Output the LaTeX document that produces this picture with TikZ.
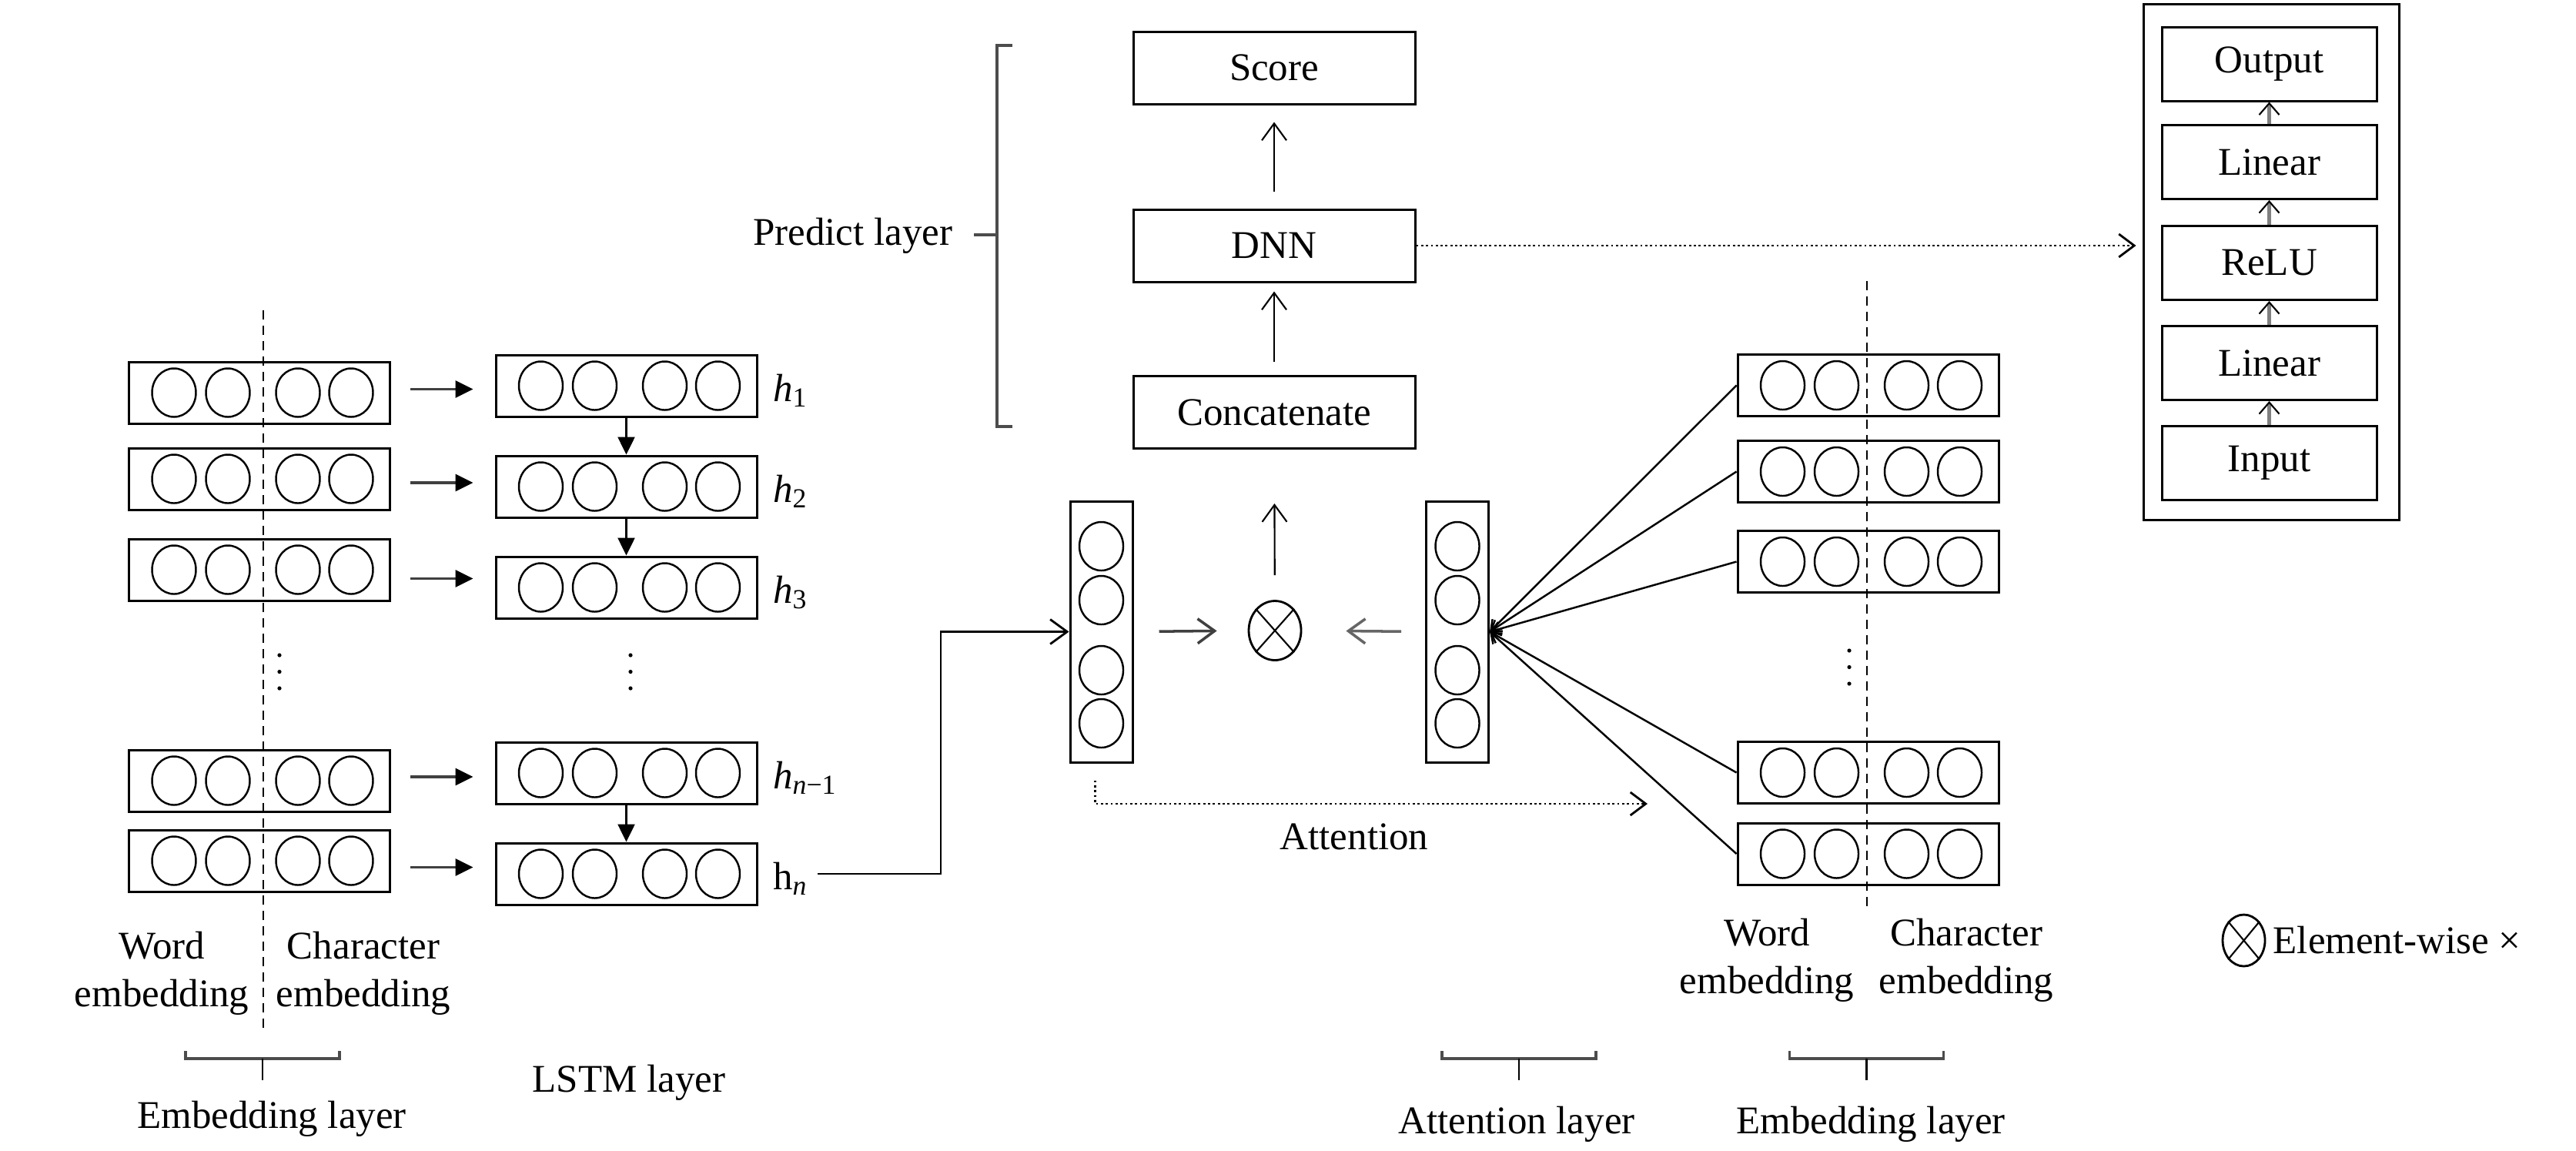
\documentclass[tikz,border=0pt]{standalone}
\usepackage{fontspec}
\setmainfont{Liberation Serif}
\usetikzlibrary{shapes.geometric,arrows.meta,calc}
\begin{document}
\begin{tikzpicture}[
  every node/.style={font=\fontsize{14.5}{17.6}\selectfont},
  vec/.style={draw, line width=0.85pt, minimum width=3.39cm, minimum height=0.80cm, inner sep=0},
  vvec/.style={draw, line width=0.85pt, minimum width=0.81cm, minimum height=3.39cm, inner sep=0},
  unit/.style={draw, ellipse, line width=0.7pt, minimum width=0.57cm, minimum height=0.63cm, inner sep=0},
  mult/.style={draw, ellipse, line width=0.8pt, inner sep=0},
  blk/.style={draw, line width=0.85pt, minimum width=3.66cm, minimum height=0.94cm},
  mlpblk/.style={draw, line width=0.85pt, minimum width=2.79cm, minimum height=0.96cm},
  fillarr/.style={line width=0.9pt, black!75, -{Triangle[length=0.23cm,width=0.22cm,color=black]}},
  openarr/.style={line width=0.6pt, -{Straight Barb[length=0.22cm,width=0.32cm]}},
  dotarr/.style={line width=0.8pt, densely dotted, -{Straight Barb[length=0.2cm,width=0.3cm]}},
  split/.style={line width=0.7pt, dash pattern=on 0.12cm off 0.08cm},
  brace/.style={line width=1pt, black!70},
  lbl/.style={inner sep=0}
]
\useasboundingbox (0,0) rectangle (33.46,-14.94);

\foreach \n/\y in {1/5.10,2/6.22,3/7.40,4/10.14,5/11.18}{
  \node[vec] (emb\n) at (3.37,-\y) {};
  \foreach \dx [count=\k] in {-1.11,-0.41,0.50,1.19}
    \node[unit] (emb\n-\k) at ($(emb\n)+(\dx,0)$) {};
}
\foreach \n/\y in {1/5.01,2/6.32,3/7.63,4/10.04,5/11.35}{
  \node[vec] (lstm\n) at (8.135,-\y) {};
  \foreach \dx [count=\k] in {-1.11,-0.41,0.50,1.19}
    \node[unit] (lstm\n-\k) at ($(lstm\n)+(\dx,0)$) {};
}
\foreach \n/\y in {1/5.005,2/6.125,3/7.295,4/10.035,5/11.09}{
  \node[vec] (remb\n) at (24.265,-\y) {};
  \foreach \dx [count=\k] in {-1.11,-0.41,0.50,1.19}
    \node[unit] (remb\n-\k) at ($(remb\n)+(\dx,0)$) {};
}

\foreach \n in {1,...,5}{
  \coordinate (mid\n) at ($(emb\n.east)!0.5!(lstm\n.west)$);
  \draw[fillarr] ($(mid\n -| emb\n.east)+(0.25,0)$) -- ($(mid\n -| lstm\n.west)+(-0.28,0)$);
}
\foreach \a/\b in {1/2,2/3,4/5}
  \draw[fillarr, line width=0.7pt, black] (lstm\a.south) -- (lstm\b.north);

\foreach \x/\y in {3.63/8.51, 8.19/8.51, 24.02/8.45}
  \foreach \d in {0,0.215,0.43}
    \fill (\x,-\y-\d) circle (0.026);

\draw[split] (3.42,-4.03) -- (3.42,-13.40);
\draw[split] (24.25,-3.65) -- (24.25,-11.80);

\foreach \n/\lab in {1/\textit{h}\textsubscript{1}, 2/\textit{h}\textsubscript{2}, 3/\textit{h}\textsubscript{3}, 4/\textit{h}\textsubscript{\textit{n}−1}, 5/h\textsubscript{\textit{n}}}
  \node[lbl, anchor=base west] (h\n) at ($(lstm\n.east)+(0.19,-0.20)$) {\lab};

\node[lbl, align=center] (wordL) at (2.10,-12.64) {Word\\embedding};
\node[lbl, align=center] (charL) at (4.72,-12.64) {Character\\embedding};
\node[lbl, align=center] (wordR) at (22.95,-12.47) {Word\\embedding};
\node[lbl, align=center] (charR) at (25.54,-12.47) {Character\\embedding};

\foreach \cx in {3.41,19.73,24.245}{
  \draw[brace] (\cx-1.0,-13.65) -- (\cx-1.0,-13.75) -- (\cx+1.0,-13.75) -- (\cx+1.0,-13.65);
  \draw[line width=0.6pt] (\cx,-13.75) -- (\cx,-14.03);
}
\node[lbl] (embLayerL) at (3.53,-14.53) {Embedding layer};
\node[lbl] (lstmLayer) at (8.17,-14.06) {LSTM layer};
\node[lbl] (attLayer) at (19.70,-14.60) {Attention layer};
\node[lbl] (embLayerR) at (24.30,-14.60) {Embedding layer};

\draw[brace] (13.15,-0.59) -- (12.95,-0.59) -- (12.95,-5.54) -- (13.15,-5.54);
\draw[brace] (12.95,-3.05) -- (12.65,-3.05);
\node[lbl, anchor=east] (predict) at (12.38,-3.06) {Predict layer};

\node[blk] (score) at (16.55,-0.88) {Score};
\node[blk] (dnn) at (16.55,-3.19) {DNN};
\node[blk] (concat) at (16.55,-5.355) {Concatenate};
\draw[openarr, shorten <=0.22cm, shorten >=0.22cm] (dnn) -- (score);
\draw[openarr, shorten <=0.17cm, shorten >=0.11cm] (concat) -- (dnn);

\node[vvec] (attL) at (14.305,-8.205) {};
\node[vvec] (attR) at (18.93,-8.205) {};
\foreach \c in {attL,attR}
  \foreach \dy [count=\k] in {1.11,0.41,-0.50,-1.19}
    \node[unit] (\c-\k) at ($(\c)+(0,\dy)$) {};

\node[mult, minimum width=0.68cm, minimum height=0.77cm] (otimes) at (16.56,-8.19) {};
\draw[line width=0.6pt] (otimes.north east) -- (otimes.south west) (otimes.north west) -- (otimes.south east);
\draw[openarr, shorten <=0.32cm, shorten >=0.70cm] (otimes) -- (concat);
\draw[openarr, line width=1pt, black!75, shorten <=0.33cm, shorten >=0.40cm] (attL.east) -- (otimes.west);
\draw[openarr, line width=1pt, black!60, shorten <=0.31cm, shorten >=0.57cm] (attR.west) -- (otimes.east);

\coordinate (bend) at (12.22,-8.205);
\draw[openarr, line width=0.8pt] ($(h5.east |- lstm5.east)+(0.12,0)$) -| (bend) -- (attL.west);

\coordinate (attTip) at (21.40,-10.44);
\draw[dotarr] ([shift={(-0.08,-0.22)}]attL.south) |- (attTip);
\node[lbl] (attText) at (17.59,-10.87) {Attention};

\foreach \n in {1,...,5}
  \draw[line width=0.7pt, -{Straight Barb[length=0.12cm,width=0.18cm]}] (remb\n.west) -- (attR.east);

\node[draw, line width=0.85pt, minimum width=3.32cm, minimum height=6.70cm] (mlp) at (29.50,-3.40) {};
\node[mlpblk] (mlpOut) at (29.475,-0.83) {Output};
\node[mlpblk] (mlpLin2) at (29.475,-2.105) {Linear};
\node[mlpblk] (mlpRelu) at (29.475,-3.415) {ReLU};
\node[mlpblk] (mlpLin1) at (29.475,-4.715) {Linear};
\node[mlpblk] (mlpIn) at (29.475,-6.01) {Input};
\foreach \a/\b in {mlpIn/mlpLin1,mlpLin1/mlpRelu,mlpRelu/mlpLin2,mlpLin2/mlpOut}
  \draw[line width=1.2pt, black!50, -{Straight Barb[length=0.15cm,width=0.26cm,color=black,line width=0.6pt]}] (\a) -- (\b);

\draw[dotarr, shorten >=0.08cm] (dnn.east) -- (dnn.east -| mlp.west);

\node[mult, minimum width=0.55cm, minimum height=0.67cm] (legMult) at (29.145,-12.215) {};
\draw[line width=0.6pt] (legMult.north east) -- (legMult.south west) (legMult.north west) -- (legMult.south east);
\node[lbl, anchor=west] (legText) at (29.52,-12.21) {Element-wise ×};
\end{tikzpicture}
\end{document}
